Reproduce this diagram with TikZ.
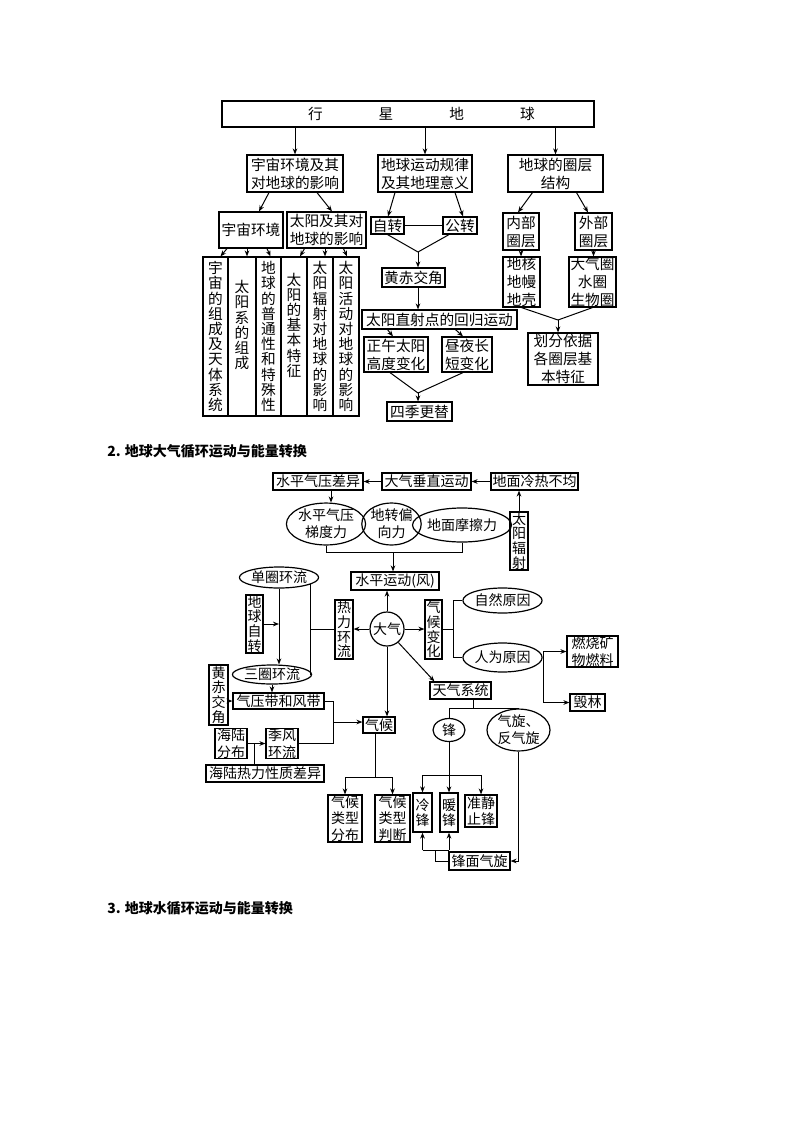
\documentclass[tikz,border=0pt]{standalone}
\usepackage{fontspec}
\usetikzlibrary{shapes.geometric,arrows.meta,calc}
\newfontfamily\cjk{Noto Sans CJK SC}
\begin{document}
\begin{tikzpicture}[x=0.75pt,y=-0.75pt,
  box/.style={draw,line width=0.9pt,inner sep=0pt,align=center},
  ell/.style={ellipse,draw,line width=0.9pt,inner sep=0pt,align=center},
  wh/.style 2 args={minimum width=#1*0.75pt,minimum height=#2*0.75pt},
  fa/.style={font=\cjk\fontsize{11}{13.5}\selectfont},
  fav/.style={font=\cjk\fontsize{11}{11.4}\selectfont},
  fb/.style={font=\cjk\fontsize{10.5}{12.5}\selectfont},
  fbv/.style={font=\cjk\fontsize{10.5}{11}\selectfont},
  ln/.style={line width=0.75pt},
  ar/.style={ln,-{Stealth[length=4.5pt,width=3.5pt]}},
  head/.style={anchor=west,inner sep=0pt,font=\cjk\bfseries\fontsize{10.5}{12}\selectfont}]
\fill[white] (0,0) rectangle (800,1132);
\useasboundingbox (0,0) rectangle (800,1132);

% ---------------- Part 1 ----------------
\node[draw,line width=0.9pt,inner sep=0pt,fa,wh={372}{26}] (top) at (408,114)
  {\kern20pt 行\hspace{42pt}星\hspace{42pt}地\hspace{42pt}球};
\node[box,fa,wh={96}{37}] (A1) at (295,173.5) {宇宙环境及其\\对地球的影响};
\node[box,fa,wh={94}{37}] (A2) at (425,173.5) {地球运动规律\\及其地理意义};
\node[box,fa,wh={95}{37}] (A3) at (555.5,173.5) {地球的圈层\\结构};

\node[box,fa,wh={64}{36}] (B1) at (251,230) {宇宙环境};
\node[box,fa,wh={79}{36}] (B2) at (326.5,230) {太阳及其对\\地球的影响};
\node[box,fa,wh={33}{17}] (zz) at (387.5,225.5) {自转};
\node[box,fa,wh={34}{17}] (gz) at (460,225.5) {公转};
\node[box,fa,wh={36}{37}] (nb) at (521,231.5) {内部\\圈层};
\node[box,fa,wh={37}{37}] (wb) at (593.5,231.5) {外部\\圈层};

\node[box,fav,wh={25}{159}] (c1) at (215.5,336.5) {宇\\宙\\的\\组\\成\\及\\天\\体\\系\\统};
\node[box,fav,wh={28}{159},text depth=18pt] (c2) at (242,336.5) {太\\阳\\系\\的\\组\\成};
\node[box,fav,wh={25}{159}] (c3) at (268.5,336.5) {地\\球\\的\\普\\通\\性\\和\\特\\殊\\性};
\node[box,fav,wh={26}{159},text depth=18pt] (c4) at (294,336.5) {太\\阳\\的\\基\\本\\特\\征};
\node[box,fav,wh={26}{159}] (c5) at (320,336.5) {太\\阳\\辐\\射\\对\\地\\球\\的\\影\\响};
\node[box,fav,wh={26}{159}] (c6) at (346,336.5) {太\\阳\\活\\动\\对\\地\\球\\的\\影\\响};

\node[box,fa,wh={63}{19}] (hj) at (413.5,277.5) {黄赤交角};
\node[box,fa,wh={155}{19}] (ts) at (439.5,319.5) {太阳直射点的回归运动};
\node[box,fa,wh={64}{35}] (zw) at (396,354.5) {正午太阳\\高度变化};
\node[box,fa,wh={50}{35}] (zy) at (467,354.5) {昼夜长\\短变化};
\node[box,fa,wh={65}{19}] (sj) at (419.5,411.5) {四季更替};

\node[box,fa,wh={37}{50}] (dh) at (521.5,282) {地核\\地幔\\地壳};
\node[box,fa,wh={47}{50}] (dqq) at (592.5,282) {大气圈\\水圈\\生物圈};
\node[box,fa,wh={70}{52}] (hf) at (563,359) {划分依据\\各圈层基\\本特征};

\draw[ar] (top.south -| A1.north) -- (A1.north);
\draw[ar] (top.south -| A2.north) -- (A2.north);
\draw[ar] (top.south -| A3.north) -- (A3.north);
\draw[ar] ($(A1.south)+(-26,0)$) -- ($(B1.north)+(8,0)$);
\draw[ar] ($(A1.south)+(22,0)$) -- ($(B2.north)+(5.5,0)$);
\draw[ar] ($(A2.south)+(-30,0)$) -- ($(zz.north)+(0.5,0)$);
\draw[ar] ($(A2.south)+(30,0)$) -- ($(gz.north)+(3,0)$);
\draw[ar] ($(A3.south)+(-23,0)$) -- ($(nb.north)+(-3,0)$);
\draw[ar] ($(A3.south)+(21,0)$) -- ($(wb.north)+(-5.5,0)$);
\draw[ln] (zz.east) -- (gz.west);

\draw[ar] ($(B1.south)+(-24,0)$) -- ($(c1.north)+(5,0)$);
\draw[ar] ($(B1.south)+(-4,0)$) -- ($(c2.north)+(5,0)$);
\draw[ar] ($(B1.south)+(16,0)$) -- ($(c3.north)+(2,0)$);
\draw[ar] ($(B2.south)+(-22,0)$) -- ($(c4.north)+(6,0)$);
\draw[ar] ($(B2.south)+(-1.5,0)$) -- ($(c5.north)+(5,0)$);
\draw[ar] ($(B2.south)+(17,0)$) -- ($(c6.north)+(1,0)$);

\coordinate (m1) at (418,252);
\draw[ln] (zz.south) -- (m1);
\draw[ln] ($(gz.south)+(-11,0)$) -- (m1);
\draw[ar] (m1) -- (m1 |- hj.north);
\draw[ar] (m1 |- hj.south) -- (m1 |- ts.north);
\draw[ar] ($(ts.south)+(-52,0)$) -- ($(zw.north)+(-3,0)$);
\draw[ar] ($(ts.south)+(16,0)$) -- ($(zy.north)+(-4,0)$);
\coordinate (m2) at (418,393);
\draw[ln] ($(zw.south)+(-6,0)$) -- (m2);
\draw[ln] ($(zy.south)+(-4,0)$) -- (m2);
\draw[ar] (m2) -- (m2 |- sj.north);

\draw[ar] (nb.south) -- (nb.south |- dh.north);
\draw[ar] (wb.south) -- (wb.south |- dqq.north);
\coordinate (m3) at (558,320);
\draw[ln] (dh.south) -- (m3);
\draw[ln] (dqq.south) -- (m3);
\draw[ar] (m3) -- (m3 |- hf.north);

% ---------------- Headings ----------------
\node[head] (h2) at (107,451) {2. 地球大气循环运动与能量转换};
\node[head] (h3) at (107,908) {3. 地球水循环运动与能量转换};

% ---------------- Part 2 ----------------
\node[box,fb,wh={90}{17}] (hq) at (318,481.5) {水平气压差异};
\node[box,fb,wh={89}{17}] (dc) at (426.5,481.5) {大气垂直运动};
\node[box,fb,wh={87}{17}] (dm) at (534.5,481.5) {地面冷热不均};
\node[box,fbv,wh={18}{58}] (ty) at (519,541) {太\\阳\\辐\\射};
\node[ell,fb,wh={68}{38}] (e1) at (326,524) {水平气压\\梯度力};
\node[ell,fb,wh={53}{38}] (e2) at (391.5,524) {地转偏\\向力};
\node[ell,fb,wh={80}{34}] (e3) at (462,525) {地面摩擦力};
\node[box,fb,wh={88}{18}] (sp) at (395,581) {水平运动(风)};

\node[ell,fb,wh={68}{21}] (s1) at (279,577.5) {单圈环流};
\node[box,fbv,wh={17}{58}] (dz) at (254.5,624) {地\\球\\自\\转};
\node[ell,fb,wh={70}{19}] (s3) at (272,674.5) {三圈环流};
\node[box,fbv,wh={18}{59}] (rl) at (344,629.5) {热\\力\\环\\流};
\node[circle,draw,line width=0.9pt,inner sep=0pt,fb,minimum size=34*0.75pt] (dq) at (387,629) {大气};
\node[box,fbv,wh={17}{59}] (qb) at (433.5,629.5) {气\\候\\变\\化};
\node[ell,fb,wh={63}{25}] (zr) at (502.5,600.5) {自然原因};
\node[ell,fb,wh={65}{29}] (rw) at (502.5,657.5) {人为原因};
\node[box,fb,wh={51}{31}] (rs) at (592.5,651.5) {燃烧矿\\物燃料};
\node[box,fb,wh={35}{17}] (hl) at (587.5,702.5) {毁林};

\node[box,fb,wh={61}{17}] (tq) at (460.5,690.5) {天气系统};
\node[ell,fb,wh={32}{23}] (fe) at (449,730) {锋};
\node[ell,fb,wh={63}{34}] (qx) at (518.5,730) {气旋、\\反气旋};
\node[box,fbv,wh={19}{39}] (lf) at (422.5,812.5) {冷\\锋};
\node[box,fbv,wh={18}{39}] (nf) at (449,812.5) {暖\\锋};
\node[box,fb,wh={32}{32}] (zj) at (481,811) {准静\\止锋};
\node[box,fb,wh={61}{18}] (fm) at (479.5,861) {锋面气旋};

\node[box,fb,wh={32}{16}] (qh) at (379,725) {气候};
\node[box,fb,wh={34}{47}] (qf) at (345,818.5) {气候\\类型\\分布};
\node[box,fb,wh={35}{47}] (qp) at (392.5,818.5) {气候\\类型\\判断};

\node[box,fbv,wh={19}{60}] (hc) at (218.5,695) {黄\\赤\\交\\角};
\node[box,fb,wh={91}{16}] (qy) at (278.5,701) {气压带和风带};
\node[box,fb,wh={32}{29}] (hl2) at (231,743.5) {海陆\\分布};
\node[box,fb,wh={32}{29}] (jf) at (282,743.5) {季风\\环流};
\node[box,fb,wh={118}{17}] (hr) at (265,773.5) {海陆热力性质差异};

% connectors part 2
\draw[ar] (dm.west) -- (dc.east);
\draw[ar] (dc.west) -- (hq.east);
\draw[ar] (ty.north) -- (ty.north |- dm.south);
\draw[ar] ($(hq.south)+(13,0)$) -- ($(e1.north)+(5,0)$);
\coordinate (br) at (393,552);
\draw[ln] (e1.south) -- (e1.south |- br) -- (e3.south |- br) -- (e3.south);
\draw[ar] (br) -- (br |- sp.north);

\draw[ar] (s1.south) -- (s1.south |- s3.north);
\draw[ar] (dz.east) -- (dz.east -| s1.south);
\draw[ln] (s1.-12) -- (s1.-12 |- s3.east) -- (s3.east);
\draw[ln] (rl.west) -- (rl.west -| s1.-12);
\draw[ar] (dq.west) -- (dq.west -| rl.east);
\draw[ar] (dq.north) -- (dq.north |- sp.south);
\draw[ar] (dq.east) -- (dq.east -| qb.west);
\coordinate (qbj) at (453,629.5);
\draw[ln] (qb.east) -- (qbj);
\draw[ln] (zr.west) -- (zr.west -| qbj) -- (rw.west -| qbj) -- (rw.west);
\coordinate (rwj) at (543,657.5);
\draw[ln] (rw.east) -- (rwj);
\draw[ln] (rwj |- rs.west) -- (rwj |- hl.west);
\draw[ar] (rwj |- rs.west) -- (rs.west);
\draw[ar] (rwj |- hl.west) -- (hl.west);

\draw[ar] (dq.-50) -- ($(tq.north west)+(5,0)$);
\draw[ar] (dq.south) -- (dq.south |- qh.north);
\coordinate (tj) at (473,708);
\draw[ln] (tj |- tq.south) -- (tj);
\draw[ln] (fe.north) -- (fe.north |- tj) -- (qx.north |- tj) -- (qx.north);
\coordinate (fj) at (449,775);
\draw[ln] (fe.south) -- (fj);
\draw[ln] (lf.north |- fj) -- (zj.north |- fj);
\draw[ar] (lf.north |- fj) -- (lf.north);
\draw[ar] (nf.north |- fj) -- (nf.north);
\draw[ar] (zj.north |- fj) -- (zj.north);
\draw[ar] (qx.south) -- (qx.south |- fm.east) -- (fm.east);
\coordinate (fk) at (435,850);
\draw[ln] (fm.west) -- (fm.west -| fk) -- (fk);
\draw[ln] (lf.south |- fk) -- (nf.south |- fk);
\draw[ar] (lf.south |- fk) -- (lf.south);
\draw[ar] (nf.south |- fk) -- (nf.south);

\coordinate (qj) at (375,777);
\draw[ln] (qh.south -| qj) -- (qj);
\draw[ln] (qf.north |- qj) -- (qp.north |- qj);
\draw[ar] (qf.north |- qj) -- (qf.north);
\draw[ar] (qp.north |- qj) -- (qp.north);

\draw[ar] (hc.east |- qy.west) -- (qy.west);
\draw[ar] (s3.south) -- (s3.south |- qy.north);
\coordinate (qyj) at (333,722);
\draw[ln] (qy.east) -- (qy.east -| qyj) -- (jf.east -| qyj) -- (jf.east);
\draw[ar] (qyj) -- (qyj -| qh.west);
\draw[ar] (hl2.east) -- (jf.west);
\coordinate (hrj) at (254,743.5);
\draw[ln] (hrj |- hr.north) -- (hrj);
\end{tikzpicture}
\end{document}
